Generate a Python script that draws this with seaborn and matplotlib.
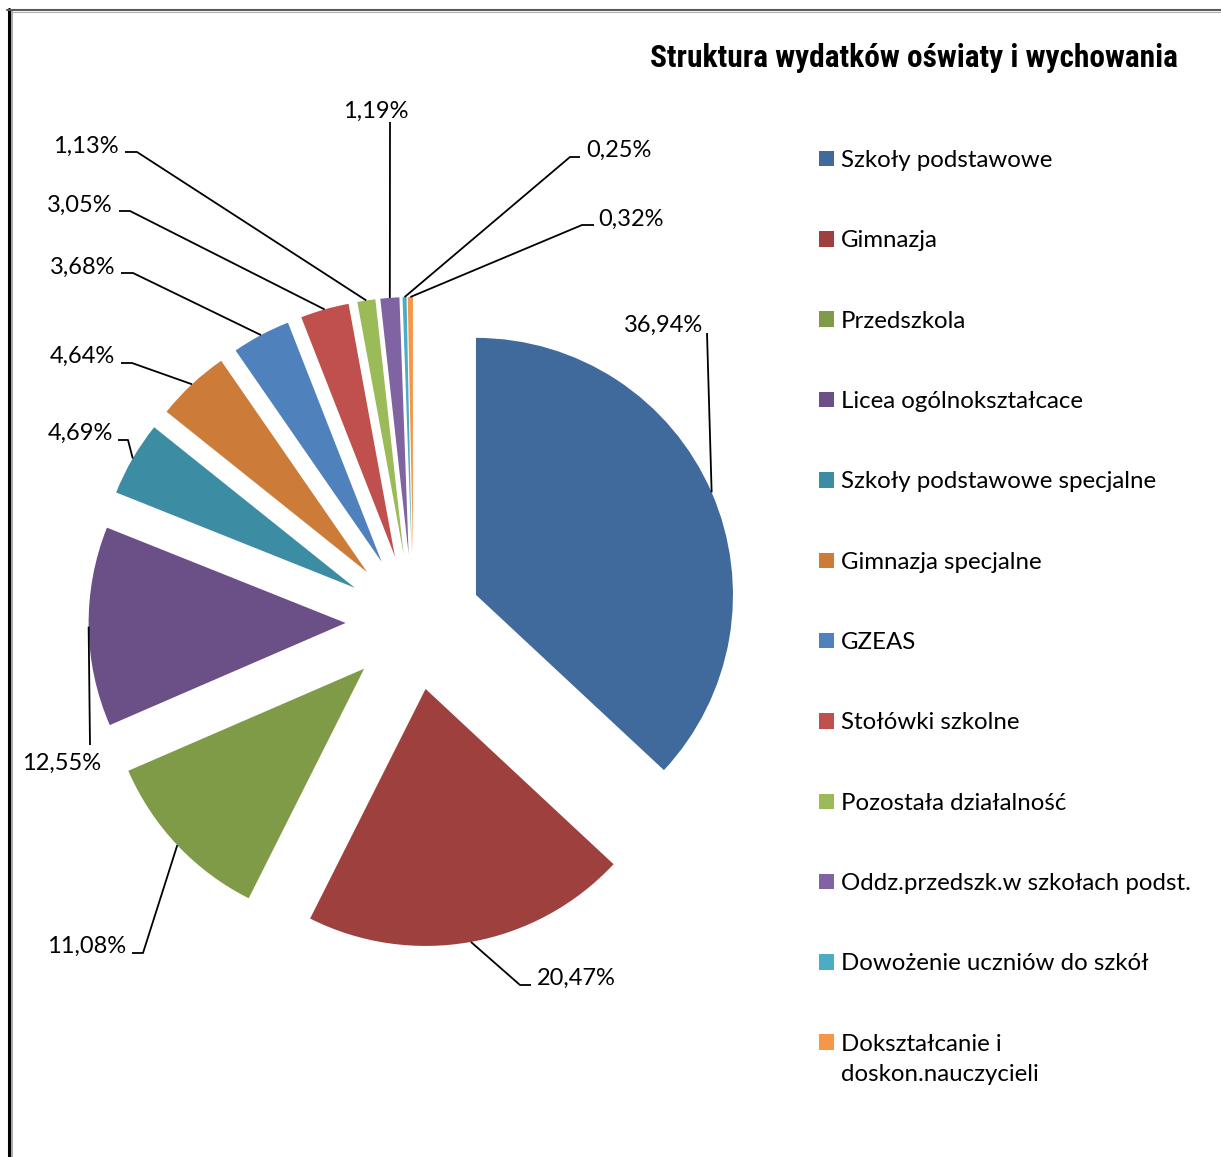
import numpy as np
import matplotlib
matplotlib.use("Agg")
import matplotlib.pyplot as plt
from matplotlib.lines import Line2D
from matplotlib.patches import Rectangle
from matplotlib.legend_handler import HandlerPatch
import seaborn as sns

# Expenditure structure (share of total, %)
categories = [
    "Szkoły podstawowe",
    "Gimnazja",
    "Przedszkola",
    "Licea ogólnokształcace",
    "Szkoły podstawowe specjalne",
    "Gimnazja specjalne",
    "GZEAS",
    "Stołówki szkolne",
    "Pozostała działalność",
    "Oddz.przedszk.w szkołach podst.",
    "Dowożenie uczniów do szkół",
    "Dokształcanie i\ndoskon.nauczycieli",
]
shares = [36.94, 20.47, 11.08, 12.55, 4.69, 4.64, 3.68, 3.05, 1.13, 1.19, 0.25, 0.32]
colors = [
    "#406A9C", "#9E413E", "#7F9B48", "#6A5086", "#3C8DA3", "#CC7B38",
    "#4F81BD", "#C0504D", "#9BBB59", "#8064A2", "#4BACC6", "#F79646",
]
title = "Struktura wydatków oświaty i wychowania"

W, H = 1221, 1157
FS = 17
LEG_FS = 17.3
LINESPACING = 1.55


def Y(py):
    return H - py


sns.set_theme(style="white")
plt.rcParams["font.family"] = ["Lato", "DejaVu Sans"]
plt.rcParams["text.color"] = "black"

fig = plt.figure(figsize=(W / 100, H / 100), dpi=100)
ax = fig.add_axes([0, 0, 1, 1])

wedges, _ = ax.pie(
    shares,
    colors=colors,
    startangle=90,
    counterclock=False,
    radius=257,
    center=(413.6, Y(622)),
    explode=[68] * len(shares),
    wedgeprops=dict(linewidth=0),
)
ax.set_xlim(0, W)
ax.set_ylim(0, H)
ax.set_aspect("equal")
ax.axis("off")

# data labels: (text x, baseline y, alignment, leader-line waypoints after the arc anchor)
label_layout = [
    (703, 332, "right", [(707, 333)]),
    (537, 985, "left", [(520, 985), (531, 985)]),
    (126, 953, "right", [(143, 953), (132, 953)]),
    (22, 770, "left", [(90, 745)]),
    (113, 440, "right", [(128, 440), (118, 440)]),
    (115, 363, "right", [(132, 363), (121, 363)]),
    (115, 274, "right", [(133, 273), (121, 273)]),
    (113, 212, "right", [(130, 211), (119, 211)]),
    (119, 153, "right", [(137, 152), (125, 152)]),
    (376, 118, "center", [(390, 122)]),
    (586, 157, "left", [(570, 157), (580, 157)]),
    (598, 226, "left", [(582, 225), (594, 225)]),
]

for w, v, (tx, ty, ha, route) in zip(wedges, shares, label_layout):
    cx, cy = w.center
    mid = np.deg2rad(0.5 * (w.theta1 + w.theta2))
    ax0 = cx + w.r * np.cos(mid)
    ay0 = cy + w.r * np.sin(mid)
    xs = [ax0] + [p[0] for p in route]
    ys = [ay0] + [Y(p[1]) for p in route]
    ax.plot(xs, ys, color="black", lw=1.3, solid_capstyle="butt")
    txt = f"{v:.2f}%".replace(".", ",")
    ax.text(tx, Y(ty), txt, ha=ha, va="baseline", fontsize=FS, color="black")


def first_line_patch(legend, orig_handle, xdescent, ydescent, width, height, fontsize):
    # keep the colour key level with the first line of a two-line label
    fpx = fontsize * fig.dpi / 72.0
    lift = 0.5 * LINESPACING * fpx - 0.25 * fpx
    return Rectangle((-xdescent, -ydescent + lift), width, height)


leg = ax.legend(
    wedges,
    categories,
    loc="upper left",
    bbox_to_anchor=(819, Y(150)),
    bbox_transform=ax.transData,
    frameon=False,
    fontsize=LEG_FS,
    handlelength=0.62,
    handleheight=0.62,
    handletextpad=0.3,
    labelspacing=2.47,
    borderpad=0,
    borderaxespad=0,
    handler_map={wedges[-1]: HandlerPatch(patch_func=first_line_patch)},
)
for t in leg.get_texts():
    t.set_linespacing(LINESPACING)
    t.set_color("black")

fig.text(
    1178 / W, 1 - 67 / H, title,
    ha="right", va="baseline", fontsize=22.6, fontweight="bold",
    family=["Roboto Condensed", "Liberation Sans Narrow", "DejaVu Sans"],
    fontstretch="condensed", color="black",
)

# outer frame
fig.add_artist(Line2D([8.5 / W, 8.5 / W], [1 - 9 / H, 0], transform=fig.transFigure,
                      color="black", lw=2.2))
fig.add_artist(Line2D([12 / W, 12 / W], [1 - 11 / H, 0], transform=fig.transFigure,
                      color="#A6A6A6", lw=1.4))
fig.add_artist(Line2D([7 / W, 1], [1 - 9.5 / H, 1 - 9.5 / H], transform=fig.transFigure,
                      color="#5A5A5A", lw=1.5))
fig.add_artist(Line2D([12 / W, 1], [1 - 11.5 / H, 1 - 11.5 / H], transform=fig.transFigure,
                      color="#B0B0B0", lw=0.8))

fig.savefig("out.png", dpi=100)
